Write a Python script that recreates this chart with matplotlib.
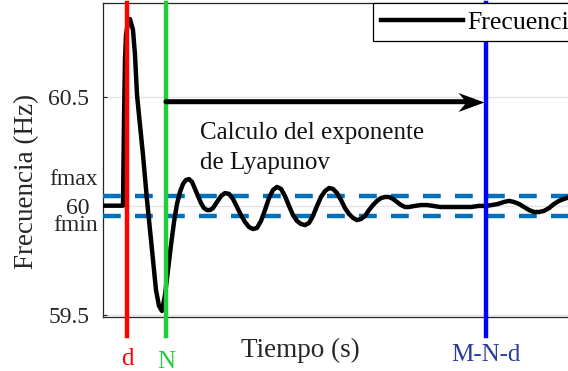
import matplotlib
matplotlib.use("Agg")
import matplotlib.pyplot as plt
import matplotlib.transforms as mtransforms
from matplotlib.path import Path

# Frequency response after a disturbance
time_s = [0.0, 0.5, 0.525, 0.55, 0.575, 0.625, 0.675, 0.75, 0.8, 0.85, 0.925,
          1.0, 1.1, 1.175, 1.25, 1.325, 1.4, 1.475, 1.55, 1.625, 1.7, 1.775,
          1.85, 1.925, 2.0, 2.075, 2.15, 2.225, 2.3, 2.375, 2.45, 2.525, 2.6,
          2.675, 2.75, 2.85, 2.95, 3.05, 3.15, 3.25, 3.35, 3.45, 3.55, 3.65,
          3.75, 3.85, 3.95, 4.05, 4.15, 4.25, 4.35, 4.45, 4.55, 4.65, 4.75,
          4.85, 4.95, 5.05, 5.15, 5.25, 5.35, 5.45, 5.55, 5.65, 5.75, 5.85,
          5.95, 6.05, 6.15, 6.25, 6.35, 6.45, 6.55, 6.65, 6.75, 6.85, 6.95,
          7.05, 7.15, 7.25, 7.35, 7.45, 7.55, 7.65, 7.8, 7.95, 8.1, 8.25,
          8.425, 8.6, 8.8, 9.0, 9.2, 9.4, 9.575, 9.725, 9.875, 10.025, 10.15,
          10.275, 10.4, 10.525, 10.65, 10.775, 10.9, 11.025, 11.15, 11.275,
          11.4, 11.525, 11.675, 11.875, 12.0]
freq_hz = [60.000, 60.000, 60.393, 60.668, 60.783, 60.843, 60.856, 60.806,
           60.691, 60.508, 60.370, 60.233, 60.026, 59.889, 59.751, 59.613,
           59.540, 59.517, 59.590, 59.705, 59.820, 59.925, 60.008, 60.063,
           60.100, 60.118, 60.122, 60.109, 60.077, 60.044, 60.012, 59.989,
           59.980, 59.980, 59.989, 60.017, 60.044, 60.058, 60.054, 60.031,
           59.994, 59.957, 59.925, 59.902, 59.893, 59.898, 59.930, 59.980,
           60.035, 60.072, 60.086, 60.077, 60.044, 59.999, 59.957, 59.930,
           59.916, 59.911, 59.921, 59.953, 59.999, 60.040, 60.067, 60.081,
           60.077, 60.058, 60.026, 59.989, 59.962, 59.944, 59.934, 59.939,
           59.953, 59.980, 60.003, 60.022, 60.035, 60.040, 60.040, 60.031,
           60.017, 60.003, 59.994, 59.994, 59.999, 60.003, 60.003, 59.999,
           59.994, 59.994, 59.994, 59.994, 59.994, 59.999, 59.999, 60.003,
           60.008, 60.017, 60.022, 60.017, 60.008, 59.994, 59.980, 59.971,
           59.971, 59.976, 59.989, 60.008, 60.022, 60.031, 60.040, 60.044,
           60.046]

# Frequency band limits
f_max = 60.045
f_min = 59.955

# Event instants: disturbance, embedding window, end of evaluation
t_d = 0.6
t_n = 1.575
t_mnd = 9.575
event_labels = ["d", "N", "M-N-d"]

y_ticks = [59.5, 60.0, 60.5]
y_tick_labels = ["59.5", "60", "60.5"]
arrow_level = 60.477

SERIF = ["Liberation Serif", "DejaVu Serif"]
plt.rcParams["font.family"] = SERIF
plt.rcParams["mathtext.fontset"] = "stix"

W, H = 568, 371
fig = plt.figure(figsize=(W / 100, H / 100), dpi=100)
ax = fig.add_axes([103 / W, (H - 317) / H, 480 / W, 314 / H])

ax.set_xlim(0, 12)
ax.set_ylim(59.4894, 60.9298)

# horizontal grid
ax.set_yticks(y_ticks)
ax.set_yticklabels(y_tick_labels)
ax.yaxis.grid(True, color="#e3e3e3", lw=1.0)
ax.set_axisbelow(True)
ax.set_xticks([])
ax.tick_params(axis="y", direction="in", length=3, width=0.8, color="#262626",
               labelsize=17, labelcolor="#262626", pad=10)
for side in ("left", "bottom", "top"):
    ax.spines[side].set_color("#262626")
    ax.spines[side].set_linewidth(0.9)
ax.spines["right"].set_visible(False)

# band limits
dash_color = "#0072BD"
for lev in (f_max, f_min):
    ax.axhline(lev, color=dash_color, lw=3.2, dashes=(4.0, 3.2), zorder=3)

# frequency curve
ax.plot(time_s, freq_hz, color="black", lw=3.2, solid_joinstyle="round",
        label="Frecuencia", zorder=4)

# event markers extending below the axes
ev_colors = ["#ff0000", "#1fcf3a", "#0000ff"]
for t, c in zip((t_d, t_n, t_mnd), ev_colors):
    ax.axvline(t, ymin=-0.0605, ymax=1.0, color=c, lw=3.2, clip_on=False, zorder=5)

blend = mtransforms.blended_transform_factory(ax.transData, ax.transAxes)
label_y = [-0.153, -0.162, -0.140]
label_colors = ["#ff0000", "#1fcf3a", "#2a3c9e"]
for t, lab, y, c in zip((t_d, t_n, t_mnd), event_labels, label_y, label_colors):
    ax.text(t, y, lab, transform=blend, ha="center", va="baseline",
            fontsize=18, color=c, clip_on=False)

# fmax / fmin labels beside the axis
blend_y = mtransforms.blended_transform_factory(ax.transAxes, ax.transData)
ax.annotate("fmax", xy=(0, f_max), xycoords=blend_y, xytext=(-4, 8),
            textcoords="offset points", ha="right", va="baseline",
            fontsize=17, color="#262626", annotation_clip=False)
ax.annotate("fmin", xy=(0, f_min), xycoords=blend_y, xytext=(-4, -11),
            textcoords="offset points", ha="right", va="baseline",
            fontsize=17, color="#262626", annotation_clip=False)

# evaluation window arrow
ax.annotate("", xy=(t_mnd, arrow_level), xytext=(t_n, arrow_level),
            arrowprops=dict(arrowstyle="-", lw=3.6, color="black",
                            shrinkA=0, shrinkB=13), zorder=6)
head = Path([(-2, 0), (-28, 9.5), (-20, 0), (-28, -9.5), (-2, 0)],
            [Path.MOVETO, Path.LINETO, Path.LINETO, Path.LINETO, Path.CLOSEPOLY])
ax.plot([t_mnd], [arrow_level], marker=head, markersize=40.3, color="black",
        markeredgewidth=0, linestyle="none", zorder=6)

ax.text(2.425, 60.168, "Calculo del exponente\nde Lyapunov", ha="left",
        va="baseline", fontsize=18, color="#111111", linespacing=1.45, zorder=7)

# axis labels
ax.set_xlabel("Tiempo (s)", fontsize=19.5, color="#262626")
ax.xaxis.set_label_coords((300 - 103) / 480, (317 - 357) / 314)
ax.xaxis.label.set_va("baseline")
ax.set_ylabel("Frecuencia (Hz)", fontsize=19.5, color="#262626")
ax.yaxis.set_label_coords((27 - 103) / 480, (317 - 181) / 314)
ax.yaxis.label.set_va("center")

leg = ax.legend(loc="upper left", bbox_to_anchor=((373 - 103) / 480, 1.0),
                borderaxespad=0, fancybox=False, framealpha=1, edgecolor="black",
                fontsize=18.5, handlelength=3.2, handletextpad=0.15,
                borderpad=0.3)
leg.get_frame().set_linewidth(0.9)
leg.set_zorder(10)

fig.savefig("out.png", dpi=100)
